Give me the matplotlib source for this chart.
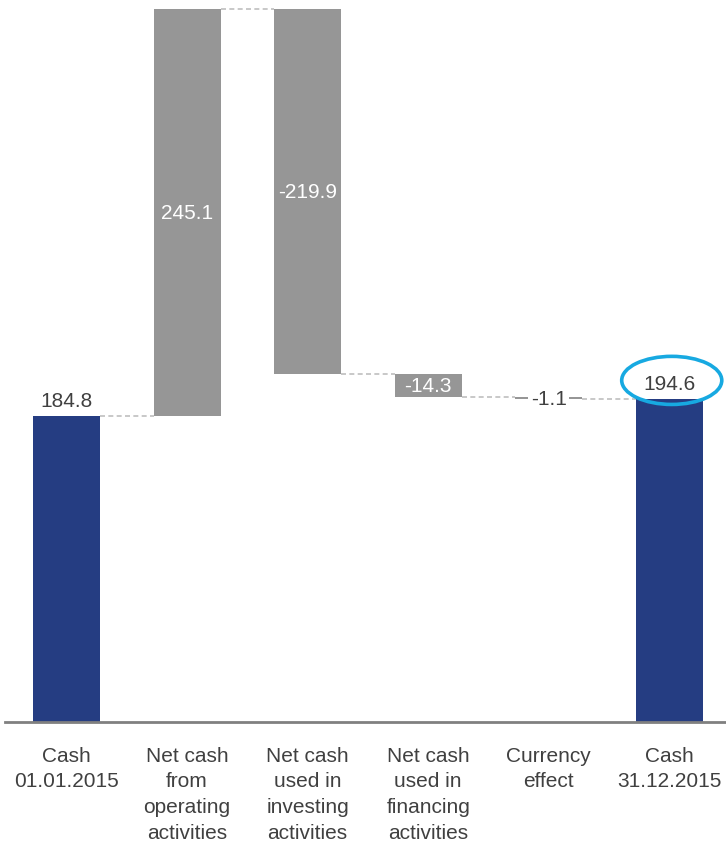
import matplotlib.pyplot as plt
from matplotlib.patches import Ellipse

plt.rcParams['font.family'] = ['Liberation Sans', 'DejaVu Sans']

# Cash flow bridge 2015 (EUR m)
categories = ["Cash\n01.01.2015", "Net cash\nfrom\noperating\nactivities",
              "Net cash\nused in\ninvesting\nactivities", "Net cash\nused in\nfinancing\nactivities",
              "Currency\neffect", "Cash\n31.12.2015"]
values = [184.8, 245.1, -219.9, -14.3, -1.1, 194.6]
kinds = ["total", "delta", "delta", "delta", "delta", "total"]

navy = "#253D82"
grey = "#969696"
text_col = "#404040"

fig = plt.figure(figsize=(7.26, 8.45), dpi=100)
ax = fig.add_axes([5 / 726, 122 / 845, 721 / 726, 723 / 845])

width = 0.555
x = list(range(len(values)))
bottoms, heights, levels = [], [], []
running = 0.0
for v, k in zip(values, kinds):
    if k == "total":
        bottoms.append(0)
        heights.append(v)
        running = v
    else:
        new = running + v
        bottoms.append(min(running, new))
        heights.append(abs(v))
        running = new
    levels.append(running)

colors = [navy if k == "total" else grey for k in kinds]
ax.bar(x, heights, bottom=bottoms, width=width, color=colors, zorder=2)

# dashed connectors between bars
for i in range(len(values) - 1):
    ax.plot([i + width / 2, i + 1 - width / 2], [levels[i], levels[i]],
            color="#BFBFBF", lw=1.2, ls=(0, (3, 2)), zorder=1)

# value labels
fs = 15
for i, (v, k) in enumerate(zip(values, kinds)):
    label = f"{v:.1f}"
    if k == "total":
        ax.text(i, bottoms[i] + heights[i] + 3.5, label, ha="center", va="bottom",
                fontsize=fs, color=text_col)
    elif heights[i] > 10:
        ax.text(i, bottoms[i] + heights[i] / 2, label, ha="center", va="center",
                fontsize=fs, color="white")
    else:
        ax.text(i, bottoms[i] + heights[i] / 2, label, ha="center", va="center",
                fontsize=fs, color=text_col, zorder=3,
                bbox=dict(boxstyle="square,pad=0.12", fc="white", ec="none"))

# highlight on closing cash
ax.add_patch(Ellipse((5.02, 206.0), 0.83, 29, angle=0, fill=False,
                     ec="#17A9E1", lw=2.6, zorder=4))

ax.set_xlim(-0.51, 5.47)
ax.set_ylim(0, 436)
ax.set_xticks(x)
ax.set_xticklabels(categories, fontsize=fs, color=text_col, linespacing=1.45)
ax.tick_params(axis="x", length=0, pad=17)
ax.set_yticks([])
for s in ["top", "right", "left"]:
    ax.spines[s].set_visible(False)
ax.spines["bottom"].set_color("#808080")
ax.spines["bottom"].set_linewidth(2)

fig.savefig("out.png", dpi=100)
